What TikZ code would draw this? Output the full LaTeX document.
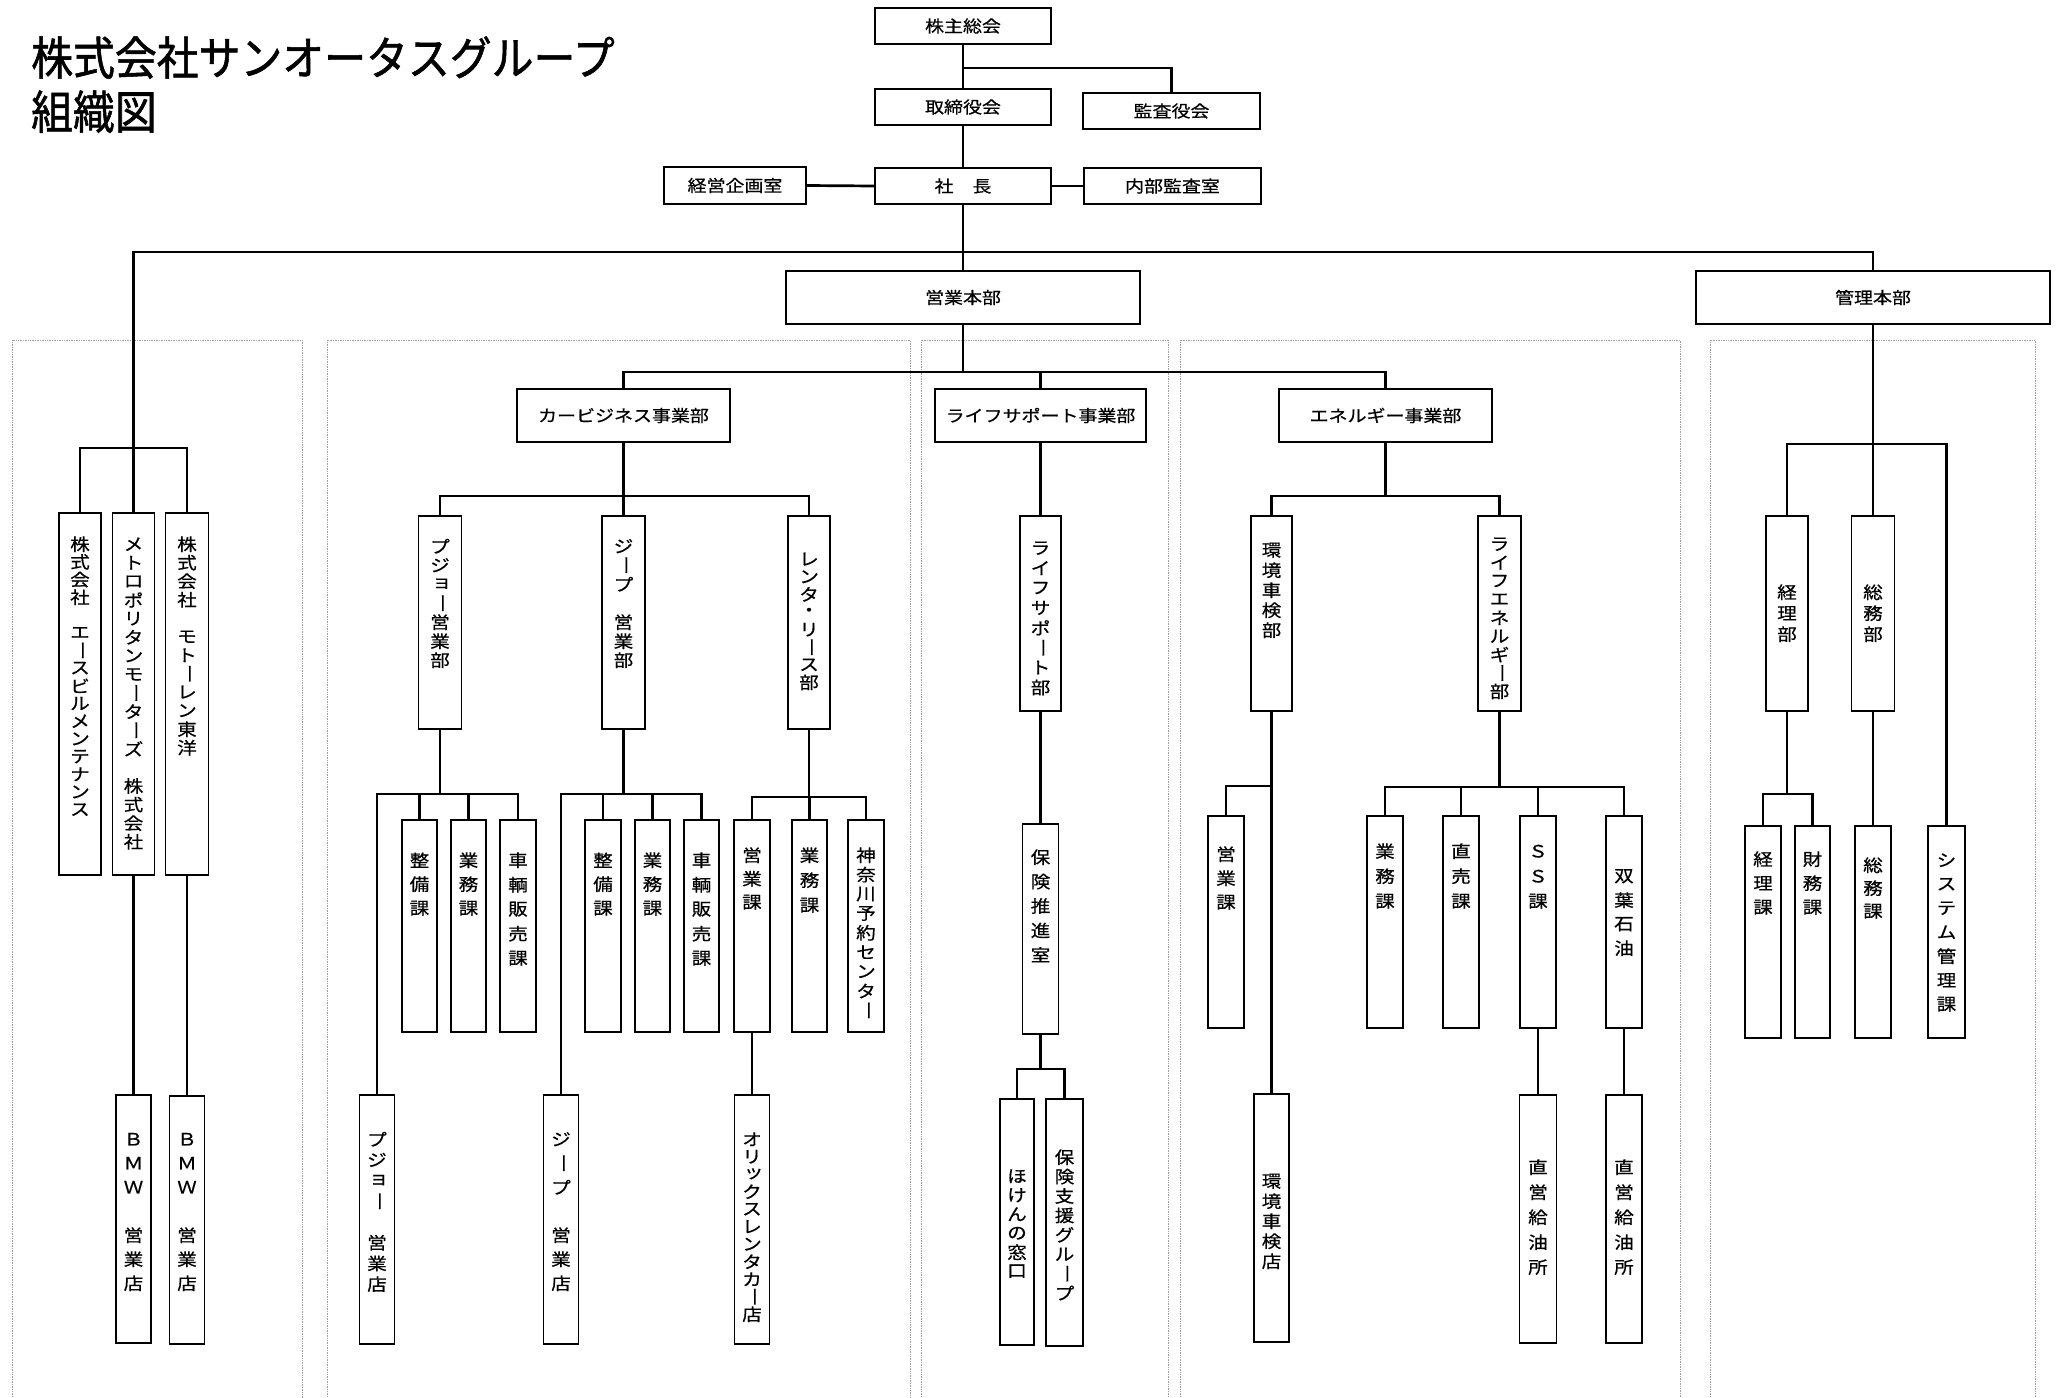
\documentclass[tikz,border=0pt]{standalone}
\usepackage{fontspec}
\usepackage{graphicx}
\setmainfont{Noto Sans CJK JP}
\newfontfamily\jpfont[FakeStretch=1.15,FakeBold=0.6]{Noto Sans CJK JP}
\newfontfamily\titlefont[FakeStretch=0.91,FakeBold=1.2]{Noto Sans CJK JP}
\newcommand\smallkana[1]{\kern.1em\raise.12em\hbox{#1}\kern-.1em}
\ExplSyntaxOn
\cs_new:Npn \vtchar:n #1
  {
    \str_case:nnF {#1}
      {
        {ー}{\rotatebox[origin=c]{-90}{ー}}
        {ョ}{\smallkana{ョ}}
        {ッ}{\smallkana{ッ}}
      }
      {#1}
  }
\NewDocumentCommand\vt{O{19pt}m}
  {
    \vbox{\offinterlineskip
      \tl_map_inline:nn {#2}
        {\hbox to 1.3em{\hss\vbox to #1{\vss\hbox{\vtchar:n{##1}}\vss}\hss}}
    }
  }
\ExplSyntaxOff
\tikzset{
  obox/.style={draw, line width=1.5pt, fill=white, inner sep=0pt, font=\jpfont\fontsize{16.5}{16.5}\selectfont},
  vrect/.style={draw, line width=1.5pt, fill=white, inner sep=0pt},
  vlab/.style={anchor=north, inner sep=0pt, font=\jpfont\fontsize{17}{17}\selectfont},
  conn/.style={line width=2.7pt, line join=miter},
  panel/.style={draw=gray!75, line width=0.7pt, densely dotted},
}
\newcommand\vbx[8]{%
  \node[vrect, minimum width=#5pt, minimum height={(#4-#3)*1pt}] (#1) at (#2,{(#3+#4)/2}) {};
  \node[vlab] (#1-t) at (#2,{#8-#7/2}) {\vt[#7pt]{#6}};
}
\begin{document}
\begin{tikzpicture}[x=1pt,y=-1pt]
\useasboundingbox (0,0) rectangle (2060,1397);
% panels
\draw[panel] (12,1400) -- (12,340) -- (302,340) -- (302,1400);
\draw[panel] (327,1400) -- (327,340) -- (910,340) -- (910,1400);
\draw[panel] (921,1400) -- (921,340) -- (1168,340) -- (1168,1400);
\draw[panel] (1180,1400) -- (1180,340) -- (1680,340) -- (1680,1400);
\draw[panel] (1710,1400) -- (1710,340) -- (2035,340) -- (2035,1400);
% title
\node[anchor=base west, inner sep=0pt, font=\titlefont\fontsize{46}{46}\selectfont] (title1) at (31,75) {株式会社サンオータスグループ};
\node[anchor=base west, inner sep=0pt, font=\titlefont\fontsize{46}{46}\selectfont] (title2) at (31,129) {組織図};
% top boxes
\node[obox, minimum width=176pt, minimum height=36pt] (kabu) at (963,26) {株主総会};
\node[obox, minimum width=176pt, minimum height=36pt] (tori) at (963,107) {取締役会};
\node[obox, minimum width=177pt, minimum height=36pt] (kansa) at (1171.5,111) {監査役会};
\node[obox, minimum width=176pt, minimum height=36pt] (shacho) at (963,186) {社　長};
\node[obox, minimum width=142pt, minimum height=37pt] (keiei) at (735,185.5) {経営企画室};
\node[obox, minimum width=177pt, minimum height=36pt] (naibu) at (1172.5,186) {内部監査室};
\node[obox, minimum width=354pt, minimum height=53pt] (eigyo) at (963,297.5) {営業本部};
\node[obox, minimum width=354pt, minimum height=53pt] (kanri) at (1873,297.5) {管理本部};
\node[obox, minimum width=213pt, minimum height=53pt] (car) at (623.5,415.5) {カービジネス事業部};
\node[obox, minimum width=211pt, minimum height=53pt] (life) at (1040.5,415.5) {ライフサポート事業部};
\node[obox, minimum width=213pt, minimum height=53pt] (ene) at (1385.5,415.5) {エネルギー事業部};
% panel 1
\vbx{A}{80}{513}{875}{42}{株式会社　エースビルメンテナンス}{17.7}{544}
\vbx{B}{133.5}{513}{875}{42}{メトロポリタンモーターズ　株式会社}{18.6}{544}
\vbx{C}{187}{513}{875}{43}{株式会社　モトーレン東洋}{18.5}{544}
\vbx{bmwa}{133.5}{1095}{1343}{35}{ＢＭＷ　営業店}{24}{1139}
\vbx{bmwb}{187}{1096}{1344}{35}{ＢＭＷ　営業店}{24}{1139}
% panel 2
\vbx{pj}{440}{516}{729}{43}{プジョー営業部}{19}{546}
\vbx{jp}{623.5}{516}{729}{43}{ジープ　営業部}{19}{546}
\vbx{rl}{809}{516}{729}{42}{レンタ・リース部}{17.6}{559}
\vbx{pjsei}{419.5}{820}{1032}{35}{整備課}{24}{860}
\vbx{pjgyo}{468.5}{820}{1032}{35}{業務課}{24}{860}
\vbx{pjsha}{518}{820}{1032}{36}{車輌販売課}{24.5}{860}
\vbx{pjten}{377}{1095}{1344}{35}{プジョー　営業店}{20.7}{1139}
\vbx{jpsei}{603}{820}{1032}{36}{整備課}{24}{860}
\vbx{jpgyo}{652.5}{820}{1032}{35}{業務課}{24}{860}
\vbx{jpsha}{701.5}{820}{1032}{35}{車輌販売課}{24.5}{860}
\vbx{jpten}{561}{1095}{1344}{35}{ジープ　営業店}{24}{1139}
\vbx{rleig}{752}{820}{1032}{36}{営業課}{23.5}{855}
\vbx{rlgyo}{809.5}{820}{1032}{35}{業務課}{25}{855}
\vbx{rlkan}{866}{820}{1032}{36}{神奈川予約センター}{19.4}{855}
\vbx{orix}{752}{1095}{1344}{35}{オリックスレンタカー店}{17.5}{1139}
% panel 3
\vbx{ls}{1040.5}{516}{711}{41}{ライフサポート部}{19.9}{548}
\vbx{hoken}{1040.5}{824}{1034}{36}{保険推進室}{24.4}{857}
\vbx{mado}{1017}{1099}{1345}{34}{ほけんの窓口}{19}{1176}
\vbx{shien}{1064.5}{1099}{1346}{37}{保険支援グループ}{19.4}{1157}
% panel 4
\vbx{kankyo}{1271.5}{516}{711}{41}{環境車検部}{20}{550}
\vbx{lifeene}{1499.5}{516}{711}{43}{ライフエネルギー部}{18.4}{544}
\vbx{eeig}{1226}{816}{1028}{36}{営業課}{24}{854}
\vbx{kten}{1271.5}{1094}{1342}{35}{環境車検店}{20}{1181}
\vbx{egyo}{1385}{816}{1028}{36}{業務課}{25}{851}
\vbx{echo}{1461}{816}{1028}{36}{直売課}{25}{851}
\vbx{ess}{1538}{816}{1028}{36}{ＳＳ課}{25}{851}
\vbx{futaba}{1624}{816}{1028}{36}{双葉石油}{24}{876}
\vbx{sskyu}{1538}{1095}{1343}{37}{直営給油所}{25}{1167}
\vbx{fbkyu}{1624}{1095}{1343}{36}{直営給油所}{25}{1167}
% panel 5
\vbx{keiribu}{1787}{516}{711}{42}{経理部}{21}{592}
\vbx{somubu}{1873}{516}{711}{43}{総務部}{21}{592}
\vbx{keirika}{1763}{826}{1038}{36}{経理課}{24}{859}
\vbx{zaimu}{1812.5}{826}{1038}{35}{財務課}{24}{859}
\vbx{somuka}{1873}{826}{1038}{36}{総務課}{23}{865}
\vbx{system}{1946.5}{826}{1038}{37}{システム管理課}{24}{860}
% bus coordinates
\coordinate (kb) at (963,68);
\coordinate (mb) at (963,252);
\coordinate (p1b) at (0,448);
\coordinate (bus2) at (0,372);
\coordinate (bcar) at (0,496);
\coordinate (bpj) at (0,794);
\coordinate (brl) at (0,797);
\coordinate (bho) at (0,1069);
\coordinate (bene) at (0,496);
\coordinate (bkk) at (0,786);
\coordinate (ble) at (0,787);
\coordinate (bkan) at (0,444);
\coordinate (bkei) at (0,794);
% top connectors
\draw[conn] (kabu.south) -- (tori.north);
\draw[conn] (kb) -| (kansa.north);
\draw[conn] (tori.south) -- (shacho.north);
\draw[conn] (keiei.east) -- (shacho.west);
\draw[conn] (shacho.east) -- (naibu.west);
\draw[conn] (shacho.south) -- (eigyo.north);
\draw[conn] (B.north) |- (mb) -| (kanri.north);
% panel 1
\draw[conn] (A.north) |- (C.north |- p1b) -- (C.north);
\draw[conn] (B.south) -- (bmwa.north);
\draw[conn] (C.south) -- (bmwb.north);
% panel 2
\draw[conn] (eigyo.south) -- (eigyo.south |- bus2);
\draw[conn] (car.north) |- (ene.north |- bus2) -- (ene.north);
\draw[conn] (life.north) -- (life.north |- bus2);
\draw[conn] (car.south) -- (car.south |- bcar);
\draw[conn] (pj.north) |- (rl.north |- bcar) -- (rl.north);
\draw[conn] (jp.north) -- (jp.north |- bcar);
\draw[conn] (pj.south) -- (pj.south |- bpj);
\draw[conn] (pjten.north) |- (pjsha.north |- bpj) -- (pjsha.north);
\draw[conn] (pjsei.north) -- (pjsei.north |- bpj);
\draw[conn] (pjgyo.north) -- (pjgyo.north |- bpj);
\draw[conn] (jp.south) -- (jp.south |- bpj);
\draw[conn] (jpten.north) |- (jpsha.north |- bpj) -- (jpsha.north);
\draw[conn] (jpsei.north) -- (jpsei.north |- bpj);
\draw[conn] (jpgyo.north) -- (jpgyo.north |- bpj);
\draw[conn] (rl.south) -- (rl.south |- brl);
\draw[conn] (rleig.north) |- (rlkan.north |- brl) -- (rlkan.north);
\draw[conn] (rlgyo.north) -- (rlgyo.north |- brl);
\draw[conn] (rleig.south) -- (orix.north);
% panel 3
\draw[conn] (life.south) -- (ls.north);
\draw[conn] (ls.south) -- (hoken.north);
\draw[conn] (hoken.south) -- (hoken.south |- bho);
\draw[conn] (mado.north) |- (shien.north |- bho) -- (shien.north);
% panel 4
\draw[conn] (ene.south) -- (ene.south |- bene);
\draw[conn] (kankyo.north) |- (lifeene.north |- bene) -- (lifeene.north);
\draw[conn] (kankyo.south) -- (kten.north);
\draw[conn] (kankyo.south |- bkk) -| (eeig.north);
\draw[conn] (lifeene.south) -- (lifeene.south |- ble);
\draw[conn] (egyo.north) |- (futaba.north |- ble) -- (futaba.north);
\draw[conn] (echo.north) -- (echo.north |- ble);
\draw[conn] (ess.north) -- (ess.north |- ble);
\draw[conn] (ess.south) -- (sskyu.north);
\draw[conn] (futaba.south) -- (fbkyu.north);
% panel 5
\draw[conn] (kanri.south) -- (kanri.south |- bkan);
\draw[conn] (keiribu.north) |- (system.north |- bkan) -- (system.north);
\draw[conn] (somubu.north) -- (somubu.north |- bkan);
\draw[conn] (keiribu.south) -- (keiribu.south |- bkei);
\draw[conn] (keirika.north) |- (zaimu.north |- bkei) -- (zaimu.north);
\draw[conn] (somubu.south) -- (somuka.north);
\end{tikzpicture}
\end{document}
